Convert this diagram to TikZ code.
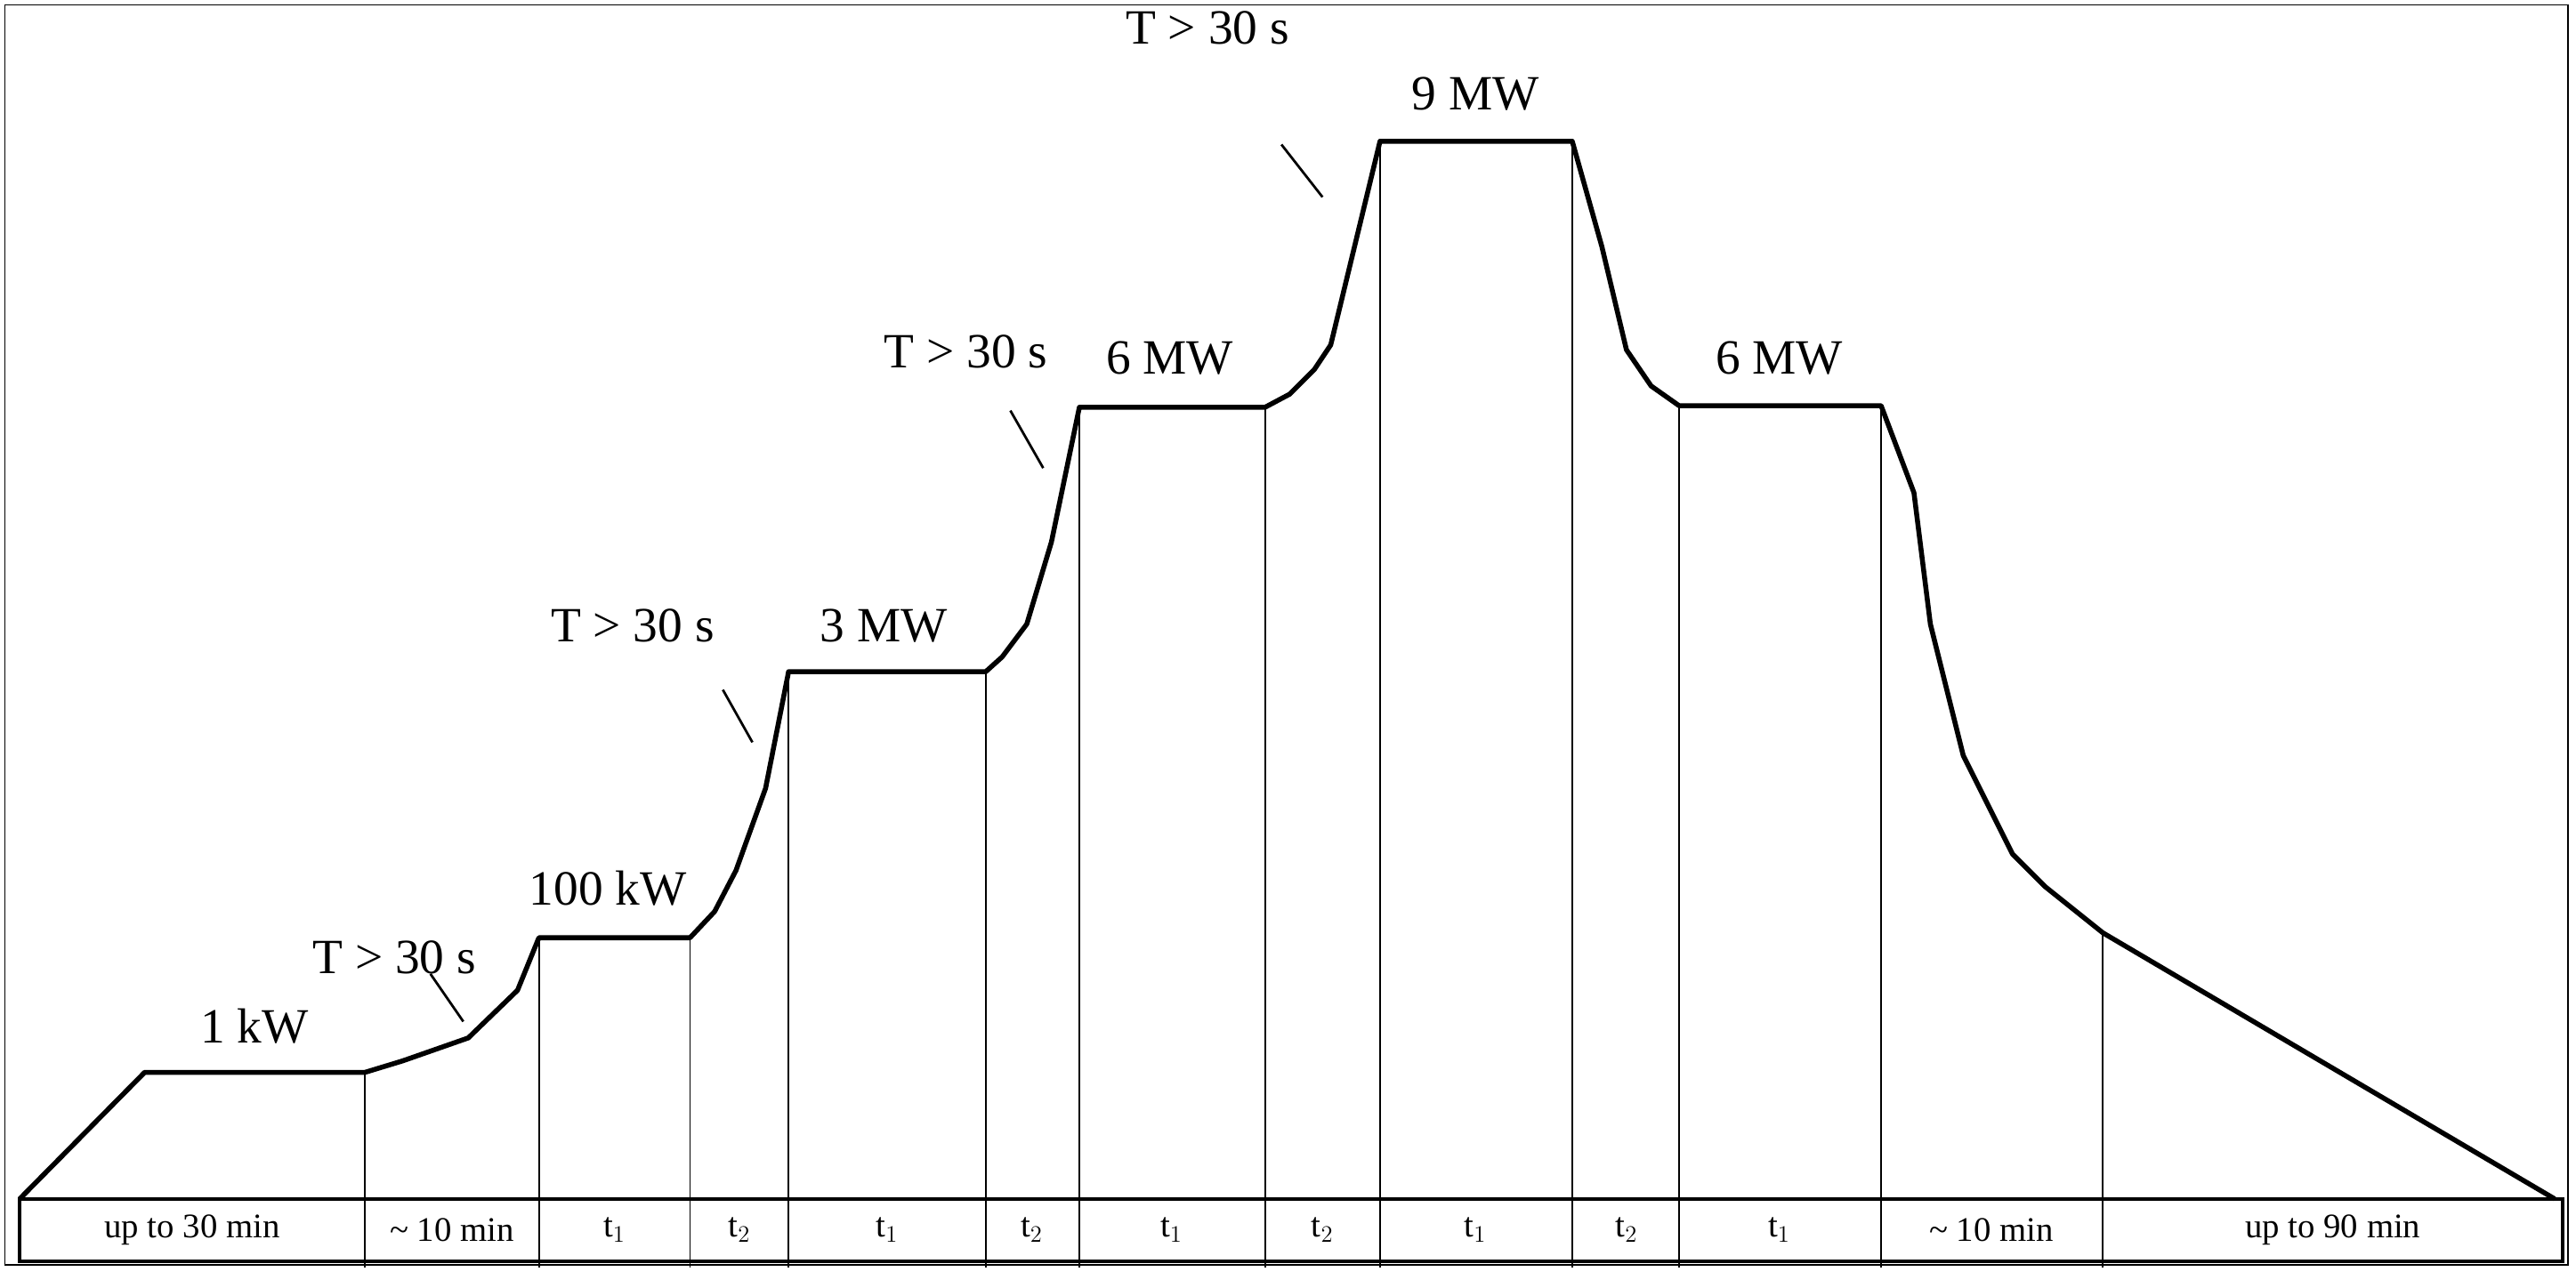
\documentclass[tikz,border=0pt]{standalone}
\usepackage{fontspec}
\setmainfont{Liberation Serif}
\begin{document}
\begin{tikzpicture}[x=1pt,y=-1pt,
  curve/.style={line width=3pt,line join=round},
  thin/.style={line width=1pt},
  big/.style={font=\fontsize{30}{33}\selectfont},
  small/.style={font=\fontsize{21}{24}\selectfont}]
\useasboundingbox (0,0) rectangle (1568,784);
\fill[white] (0,0) rectangle (1568,784);
\draw[thin] (3,3) rectangle (1563,770);
\foreach \x/\y in {222/653,328/571,420/571,480/409,600/409,657/248,770/248,840/86,957/86,1022/247,1145/247,1280/568}
  \draw[thin] (\x,\y) -- (\x,772);
\draw[line width=2pt] (12,730) rectangle (1560,768);
\draw[curve] (12,730) -- (88,653) -- (222,653) -- (245,646) -- (285,632) -- (315,603) -- (328,571)
 -- (420,571) -- (435,555) -- (448,530) -- (466,480) -- (480,409)
 -- (600,409) -- (610,400) -- (625,380) -- (640,330) -- (657,248)
 -- (770,248) -- (785,240) -- (800,225) -- (810,210) -- (840,86)
 -- (957,86) -- (975,150) -- (990,213) -- (1005,235) -- (1022,247)
 -- (1145,247) -- (1165,300) -- (1175,380) -- (1195,460) -- (1225,520) -- (1245,540) -- (1280,568)
 -- (1555,730);
\foreach \x/\t in {117/up to 30 min,275/\textasciitilde\ 10 min,374/t$_1$,450/t$_2$,540/t$_1$,628/t$_2$,713/t$_1$,805/t$_2$,898/t$_1$,990/t$_2$,1083/t$_1$,1212/\textasciitilde\ 10 min,1420/up to 90 min}
  \node[small] at (\x,749) {\t};
\node[big] (a) at (155,625) {1 kW};
\node[big] (b) at (240,583) {T > 30 s};
\node[big] (c) at (370,541) {100 kW};
\node[big] (d) at (385,381) {T > 30 s};
\node[big] (e) at (538,381) {3 MW};
\node[big] (f) at (588,214) {T > 30 s};
\node[big] (g) at (712,218) {6 MW};
\node[big] (h) at (735,17) {T > 30 s};
\node[big] (i) at (898,57) {9 MW};
\node[big] (j) at (1083,218) {6 MW};
\draw[line width=1.5pt] (262,593) -- (282,622);
\draw[line width=1.5pt] (440,420) -- (458,452);
\draw[line width=1.5pt] (615,250) -- (635,285);
\draw[line width=1.5pt] (780,88) -- (805,120);
\end{tikzpicture}
\end{document}
